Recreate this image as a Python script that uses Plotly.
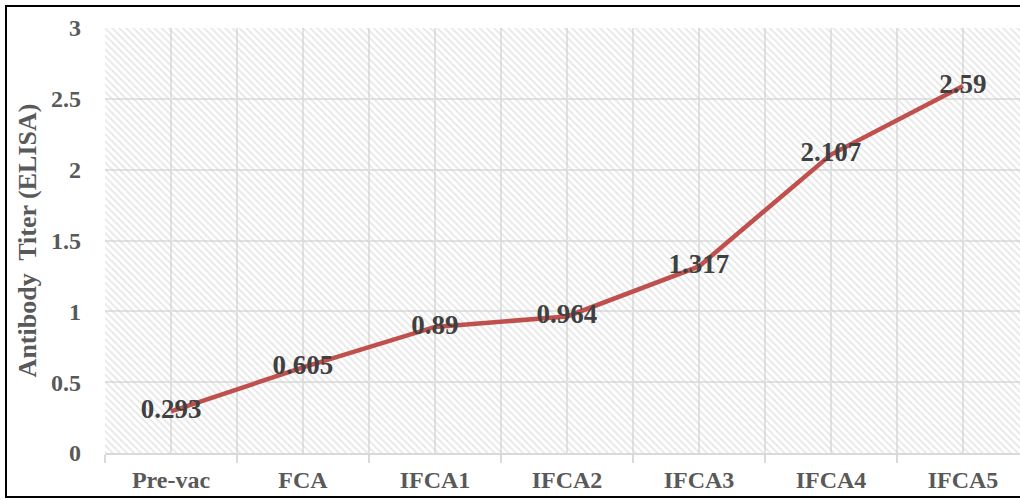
import plotly.graph_objects as go

categories = ["Pre-vac", "FCA", "IFCA1", "IFCA2", "IFCA3", "IFCA4", "IFCA5"]
titer = [0.293, 0.605, 0.89, 0.964, 1.317, 2.107, 2.59]
value_labels = ["0.293", "0.605", "0.89", "0.964", "1.317", "2.107", "2.59"]
y_ticks = [0, 0.5, 1, 1.5, 2, 2.5, 3]
y_tick_labels = ["0", "0.5", "1", "1.5", "2", "2.5", "3"]

n = len(categories)
xpos = list(range(n))
FONT = "Liberation Serif, Times New Roman, serif"

fig = go.Figure()

# hatched plot background
fig.add_trace(go.Scatter(
    x=[-0.5, n - 0.5, n - 0.5, -0.5, -0.5],
    y=[0, 0, 3, 3, 0],
    mode="none", fill="toself", fillcolor="rgba(0,0,0,0)",
    fillpattern=dict(shape="\\", fgcolor="#d0d0d0", bgcolor="rgba(0,0,0,0)",
                     size=5, solidity=0.35),
    hoverinfo="skip", showlegend=False,
))

fig.add_trace(go.Scatter(
    x=xpos, y=titer, mode="lines+text",
    line=dict(color="#c0504d", width=4.5),
    text=value_labels, textposition="middle center",
    textfont=dict(family=FONT, size=27, color="#404040", weight="bold"),
    showlegend=False, cliponaxis=False,
))

fig.update_layout(
    width=1020, height=500,
    margin=dict(l=105, r=0, t=28, b=47),
    paper_bgcolor="white", plot_bgcolor="white",
    font=dict(family=FONT),
    xaxis=dict(
        range=[-0.5, 6.432],
        tickmode="array", tickvals=xpos, ticktext=categories,
        tickfont=dict(family=FONT, size=24, color="#595959", weight="bold"),
        showgrid=True, gridcolor="#e2e2e2", gridwidth=2,
        ticks="", ticklabelstandoff=4,
        showline=True, linecolor="#d9d9d9", linewidth=2,
        zeroline=False, automargin=False,
        minor=dict(tickvals=[i - 0.5 for i in range(n + 1)], ticks="outside",
                   ticklen=8, tickcolor="#d9d9d9", tickwidth=2,
                   showgrid=True, gridcolor="#e2e2e2", gridwidth=2),
    ),
    yaxis=dict(
        range=[0, 3],
        tickmode="array", tickvals=y_ticks, ticktext=y_tick_labels,
        tickfont=dict(family=FONT, size=24, color="#595959", weight="bold"),
        showgrid=True, gridcolor="#e2e2e2", gridwidth=2,
        zeroline=False, showline=False, ticks="", ticklabelstandoff=23,
        automargin=False,
        title=dict(text="Antibody\u00a0 Titer (ELISA)",
                   font=dict(family=FONT, size=26, color="#595959", weight="bold"),
                   standoff=6),
    ),
    shapes=[dict(type="rect", xref="paper", yref="paper",
                 x0=(6 - 105) / 915, x1=1.02, y0=-(497 - 453) / 425, y1=1 + (28 - 6) / 425,
                 line=dict(color="black", width=2), fillcolor="rgba(0,0,0,0)",
                 layer="above")],
)

fig.write_html("out.html")
